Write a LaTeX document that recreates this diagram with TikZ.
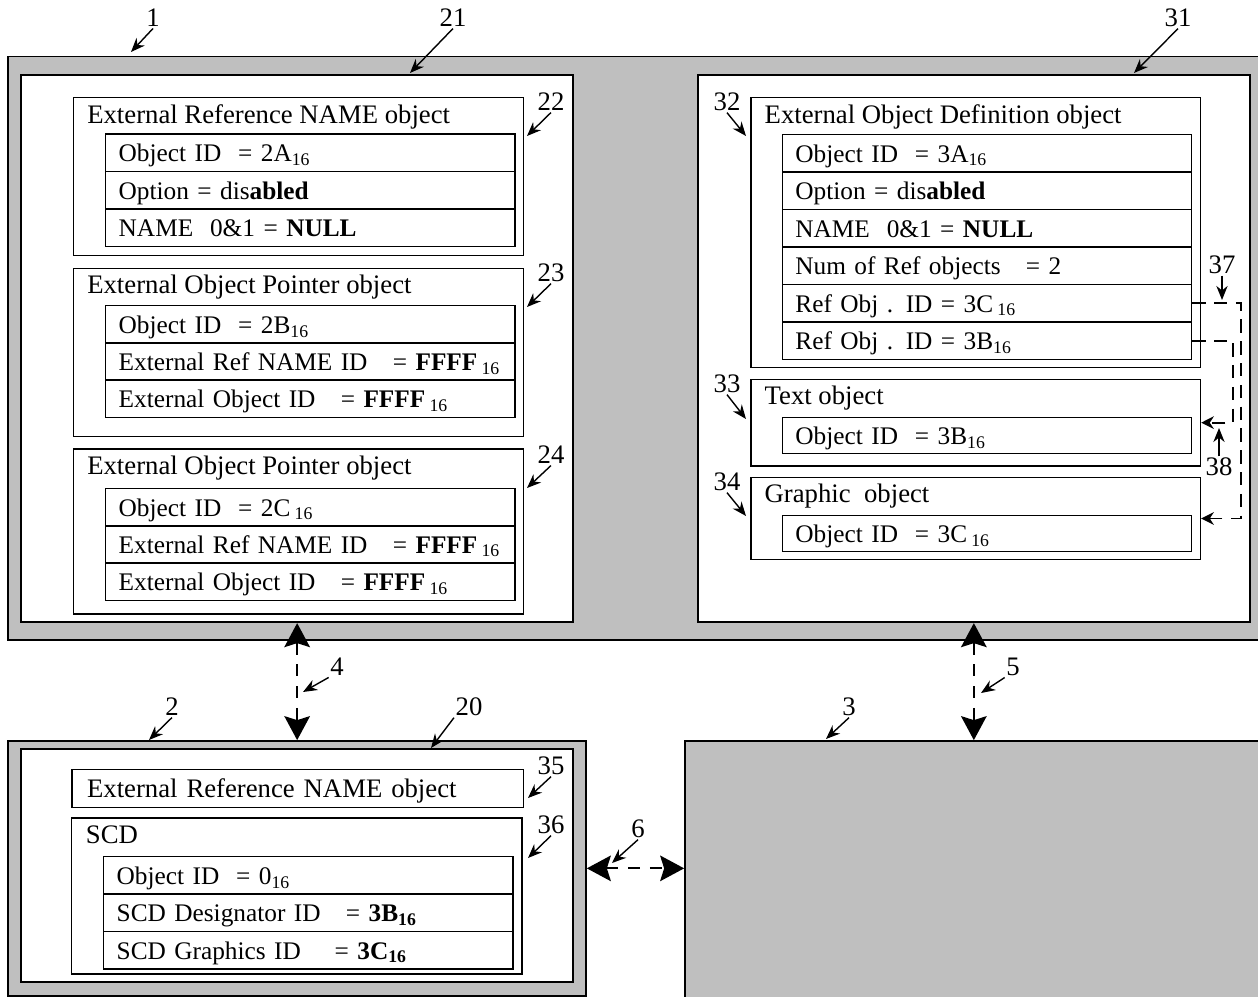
\documentclass[tikz,border=0pt]{standalone}
\usepackage{fontspec}
\setmainfont{Liberation Serif}
\usetikzlibrary{arrows.meta,fit}
\definecolor{panelgray}{RGB}{191,191,191}
\begin{document}
\begin{tikzpicture}[x=0.025cm,y=-0.025cm,line join=miter,
  font=\fontsize{19}{23}\selectfont,
  panel/.style={draw,line width=1.2pt,fill=panelgray,inner sep=0pt},
  area/.style={draw,line width=1.2pt,fill=white,inner sep=0pt},
  group/.style={draw,line width=1pt,inner sep=0pt},
  field/.style={draw,line width=1pt,anchor=north west,font=\fontsize{18}{22}\selectfont,inner xsep=0.325cm,inner ysep=0pt,text width=9.575cm,text height=0.55cm,text depth=0.1cm,minimum height=0.935cm,align=left},
  heading/.style={anchor=base west,inner sep=0pt},
  num/.style={inner sep=1pt},
  leader/.style={line width=1pt,-{Stealth[length=10pt,width=8pt]}},
  link/.style={line width=1.4pt,dash pattern=on 8.5pt off 7pt,{Stealth[length=0.6cm,width=0.64cm,inset=0.1cm]}-{Stealth[length=0.6cm,width=0.64cm,inset=0.1cm]}},
  reflink/.style={line width=1.4pt,dash pattern=on 9.5pt off 6pt,-{Stealth[length=9pt,width=9pt]}}]
  \useasboundingbox (0,0) rectangle (1258,997);
  \node[panel,fit={(8,56.5) (1280,640)}] (b1) {};
  \node[area,fit={(21,74.7) (573.3,622.3)}] (b21) {};
  \node[area,fit={(697.7,74.7) (1250,622.3)}] (b31) {};
  \node[panel,fit={(8,741) (586,995.7)}] (b2) {};
  \node[area,fit={(21,749) (573,982.3)}] (b20) {};
  \node[panel,fit={(685,741) (1280,1010)}] (b3) {};

  \node[group,fit={(73.5,97.7) (523.5,255.7)}] (g22) {};
  \node[group,fit={(73.5,268.3) (523.5,436.7)}] (g23) {};
  \node[group,fit={(73.5,449) (523.5,614)}] (g24) {};
  \node[group,fit={(750.8,97.7) (1200.5,367.3)}] (g32) {};
  \node[group,fit={(750.8,379.3) (1200.5,466)}] (g33) {};
  \node[group,fit={(750.8,477.7) (1200.5,559.3)}] (g34) {};
  \node[group,fit={(71.4,818) (522,974)}] (g36) {};

  \node[heading] (t22) at (87,123.3) {External Reference NAME object};
  \node[heading] (t23) at (87,293.5) {External Object Pointer object};
  \node[heading] (t24) at (87,475) {External Object Pointer object};
  \node[heading] (t32) at (764.4,123.3) {External Object Definition object};
  \node[heading] (t33) at (764.4,405) {Text object};
  \node[heading] (t34) at (764.4,502.7) {Graphic\ \ object};
  \node[heading] (t36) at (85.7,843) {SCD};

  \foreach \txt [count=\i] in {{Object ID\ \ = 2A\textsubscript{16}},{Option = dis\textbf{abled}},{NAME\ \ 0\&1 = \textbf{NULL}}}
    \node[field] (r22-\i) at (105,{133.5+37.4*(\i-1)}) {\txt};
  \foreach \txt [count=\i] in {{Object ID\ \ = 2B\textsubscript{16}},{External Ref NAME ID\quad= \textbf{FFFF}\,\textsubscript{16}},{External Object ID\ \ \ = \textbf{FFFF}\,\textsubscript{16}}}
    \node[field] (r23-\i) at (105,{305+37.2*(\i-1)}) {\txt};
  \foreach \txt [count=\i] in {{Object ID\ \ = 2C\,\textsubscript{16}},{External Ref NAME ID\quad= \textbf{FFFF}\,\textsubscript{16}},{External Object ID\ \ \ = \textbf{FFFF}\,\textsubscript{16}}}
    \node[field] (r24-\i) at (105,{487.7+37.2*(\i-1)}) {\txt};
  \foreach \txt [count=\i] in {{Object ID\ \ = 3A\textsubscript{16}},{Option = dis\textbf{abled}},{NAME\ \ 0\&1 = \textbf{NULL}},{Num of Ref objects\ \ \ = 2},{Ref Obj . ID = 3C\,\textsubscript{16}},{Ref Obj . ID = 3B\textsubscript{16}}}
    \node[field] (r32-\i) at (781.7,{133.7+37.5*(\i-1)}) {\txt};
  \node[field,minimum height=0.9cm] (r33) at (781.7,416.7) {Object ID\ \ = 3B\textsubscript{16}};
  \node[field,minimum height=0.9cm] (r34) at (781.7,515) {Object ID\ \ = 3C\,\textsubscript{16}};
  \node[field,font=\fontsize{19}{23}\selectfont,text width=10.525cm,inner xsep=0.375cm,minimum height=0.95cm] (r35) at (71.4,769) {External Reference NAME object};
  \foreach \txt [count=\i] in {{Object ID\ \ = 0\textsubscript{16}},{SCD Designator ID\quad= \textbf{3B\textsubscript{16}}},{SCD Graphics ID\quad\ = \textbf{3C\textsubscript{16}}}}
    \node[field] (r36-\i) at (103,{856+37.4*(\i-1)}) {\txt};

  \draw[link] (b21.south) -- (b21.south |- b2.north);
  \draw[link] (b31.south) -- (b31.south |- b3.north);
  \draw[link] (b2.east) -- (b2.east -| b3.west);
  \draw[reflink] (r32-5.east) -- ++(49,0) |- (g34.east);
  \draw[reflink] (r32-6.east) -- ++(41,0) |- (g33.east);

  \foreach \n/\lx/\ly/\an/\px/\py in {1/153/18/south/131/52,21/453/18/south/410/73,31/1178/18/south/1134/73,
      22/551/102/south/527/136,23/551/273/south/527/307,24/551/455/south/527/488,
      32/727/102/south/746/136,33/727/384/south/746/419,34/727/482/south/746/516,
      37/1222/265/south/1222/300,38/1219/467/north/1219/428,
      4/337/667/south west/303/692,5/1013/667/south west/981/693,
      2/172/707/south/149/740,20/469/707/south west/431/748,3/849/707/south/826/739,
      35/551/766/south/528/798,36/551/825/south/528/858,6/638/829/south/612/863}{
    \node[num] (n\n) at (\lx,\ly) {\n};
    \coordinate (p\n) at (\px,\py);
    \draw[leader] (n\n.\an) -- (p\n);
  }
\end{tikzpicture}
\end{document}
